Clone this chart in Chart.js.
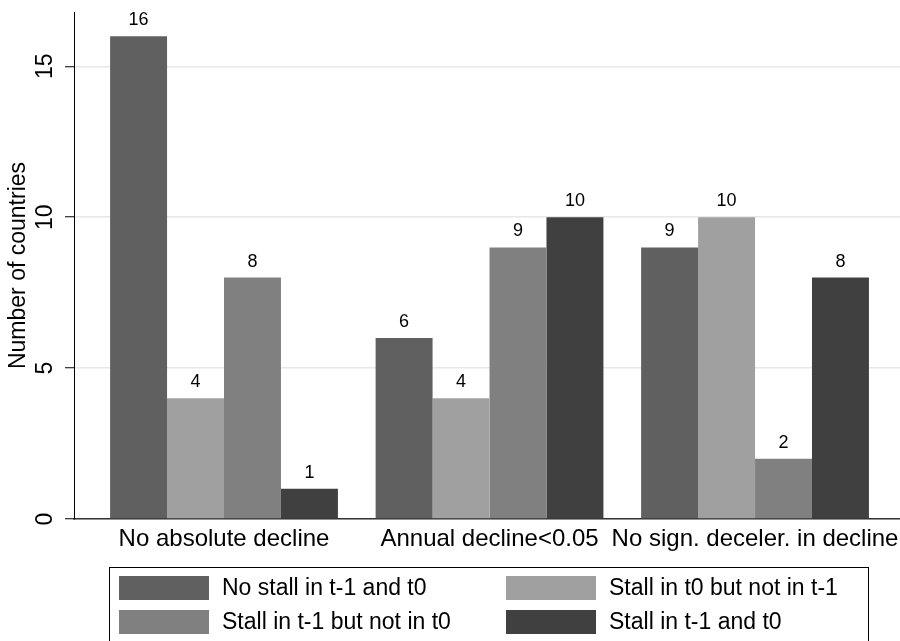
<!DOCTYPE html>
<html>
<head>
<meta charset="utf-8">
<script src="https://cdn.jsdelivr.net/npm/chart.js@4"></script>
<style>
html, body { margin: 0; padding: 0; background: #fff; }
#wrap { width: 900px; height: 641px; }
</style>
</head>
<body>
<div id="wrap"><canvas id="chart" width="900" height="641"></canvas></div>
<script>
// Data
const categories = ['No absolute decline', 'Annual decline<0.05', 'No sign. deceler. in decline'];
const seriesNames = ['No stall in t-1 and t0', 'Stall in t0 but not in t-1', 'Stall in t-1 but not in t0', 'Stall in t-1 and t0'];
const noStall = [16, 6, 9];
const stallT0Only = [4, 4, 10];
const stallT1Only = [8, 9, 2];
const stallBoth = [1, 10, 8];
const yTicks = [0, 5, 10, 15];

const seriesValues = [noStall, stallT0Only, stallT1Only, stallBoth];
const seriesColors = ['#606060', '#a0a0a0', '#808080', '#404040'];
const FONT = 'Helvetica, Arial, "Liberation Sans", sans-serif';

// Numbers above each bar
const valueLabels = {
    id: 'valueLabels',
    afterDatasetsDraw(chart) {
        const ctx = chart.ctx;
        ctx.save();
        ctx.font = '18px ' + FONT;
        ctx.fillStyle = '#000';
        ctx.textAlign = 'center';
        ctx.textBaseline = 'alphabetic';
        chart.data.datasets.forEach((ds, i) => {
            chart.getDatasetMeta(i).data.forEach((bar, j) => {
                ctx.fillText(String(ds.data[j].y), bar.x, bar.y - 11);
            });
        });
        ctx.restore();
    }
};

// Two-column boxed legend, Stata style
const boxLegend = {
    id: 'boxLegend',
    afterDraw(chart) {
        const ctx = chart.ctx;
        ctx.save();
        ctx.fillStyle = '#fff';
        ctx.fillRect(109, 567, 759, 80);
        ctx.strokeStyle = '#000';
        ctx.lineWidth = 1;
        ctx.strokeRect(109.5, 567.5, 759, 80);
        ctx.font = '23px ' + FONT;
        ctx.textBaseline = 'middle';
        ctx.textAlign = 'left';
        const colX = [119, 506];
        const rowY = [576, 610];
        chart.data.datasets.forEach((ds, i) => {
            const x = colX[i % 2];
            const y = rowY[Math.floor(i / 2)];
            ctx.fillStyle = ds.backgroundColor;
            ctx.fillRect(x, y, 90, 24);
            ctx.fillStyle = '#000';
            ctx.fillText(ds.label, x + 103, y + 13);
        });
        ctx.restore();
    }
};

new Chart(document.getElementById('chart'), {
    type: 'bar',
    data: {
        datasets: seriesNames.map((name, i) => ({
            label: name,
            data: seriesValues[i].map((v, j) => ({ x: j, y: v })),
            backgroundColor: seriesColors[i],
            borderWidth: 0,
            categoryPercentage: 0.858,
            barPercentage: 1
        }))
    },
    options: {
        responsive: false,
        animation: false,
        devicePixelRatio: 1,
        layout: { padding: { top: 12, left: 0, right: 0, bottom: 0 } },
        plugins: {
            legend: { display: false },
            tooltip: { enabled: false }
        },
        scales: {
            x: {
                type: 'linear',
                min: -0.565,
                max: 2.546,
                offset: false,
                grid: { display: false, drawTicks: false, offset: false },
                border: { display: true, color: '#333', width: 1.5 },
                ticks: {
                    font: { family: FONT, size: 24 },
                    color: '#000',
                    padding: 6,
                    minRotation: 0,
                    maxRotation: 0,
                    autoSkip: false,
                    callback: v => categories[v] ?? ''
                },
                afterBuildTicks: s => { s.ticks = categories.map((c, i) => ({ value: i })); },
                afterFit: s => { s.height = 122; s.paddingLeft = 0; s.paddingRight = 0; }
            },
            y: {
                min: 0,
                max: 16.8,
                ticks: {
                    font: { family: FONT, size: 23 },
                    color: '#000',
                    minRotation: 90,
                    maxRotation: 90,
                    crossAlign: 'center',
                    padding: 7,
                    includeBounds: false
                },
                afterBuildTicks: s => { s.ticks = yTicks.map(v => ({ value: v })); },
                grid: { color: '#e8e8e8', lineWidth: 1.5, tickColor: '#000', tickLength: 9, tickWidth: 1 },
                border: { display: true, color: '#000', width: 1 },
                title: {
                    display: true,
                    text: 'Number of countries',
                    font: { family: FONT, size: 23 },
                    color: '#000',
                    padding: { top: 5, bottom: 0 }
                },
                afterFit: s => { s.width = 74; s.paddingTop = 0; s.paddingBottom = 0; }
            }
        }
    },
    plugins: [valueLabels, boxLegend]
});
</script>
</body>
</html>
